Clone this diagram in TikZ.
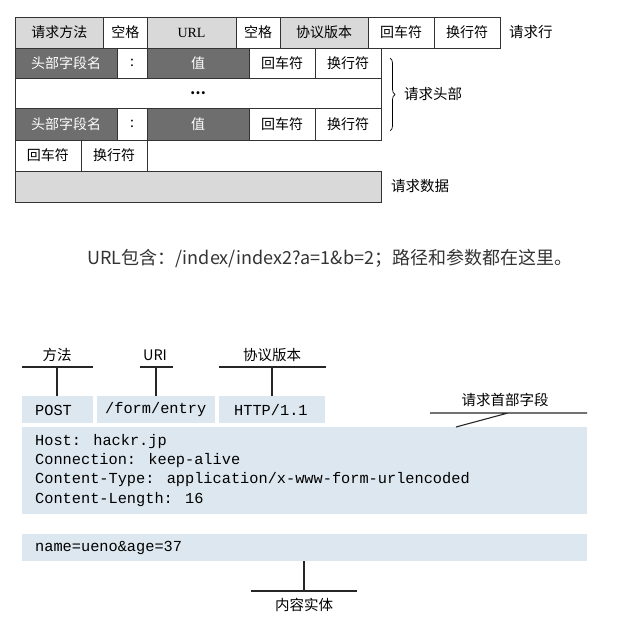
\documentclass[tikz,border=0pt]{standalone}
\usepackage{fontspec}
\setmainfont{Noto Sans CJK SC}
\newfontfamily\monof{Liberation Mono}
\usetikzlibrary{decorations.pathreplacing}
\definecolor{lg}{HTML}{D9D9D9}
\definecolor{dg}{HTML}{6E6E6E}
\definecolor{lb}{HTML}{DCE7EF}
\begin{document}
\begin{tikzpicture}[x=1pt,y=-1pt,
  cell/.style={draw=black!80,line width=0.8pt,font=\fontsize{14}{16}\selectfont},
  lbl/.style={font=\fontsize{14.5}{17}\selectfont,inner sep=0},
  mono/.style={font=\monof\fontsize{15.3}{17}\selectfont,inner sep=0,anchor=west},
  ln/.style={line width=1.1pt,black!85}]
\useasboundingbox (0,0) rectangle (621,627);
% row 1
\draw[cell,fill=lg] (15,17) rectangle node (a1){请求方法} (103.5,48);
\draw[cell] (103.5,17) rectangle node (a2){空格} (147,48);
\draw[cell,fill=lg] (147,17) rectangle node (a3){\fontspec{Liberation Serif}URL} (236,48);
\draw[cell] (236,17) rectangle node (a4){空格} (280,48);
\draw[cell,fill=lg] (280,17) rectangle node (a5){协议版本} (368,48);
\draw[cell] (368,17) rectangle node (a6){回车符} (434,48);
\draw[cell] (434,17) rectangle node (a7){换行符} (500,48);
\node[lbl,anchor=west] (l1) at (509,32) {请求行};
% row 2
\draw[cell,fill=dg] (15,48) rectangle node[text=white] (b1){头部字段名} (117,78);
\draw[cell] (117,48) rectangle node (b2){:} (147,78);
\draw[cell,fill=dg] (147,48) rectangle node[text=white] (b3){值} (249,78);
\draw[cell] (249,48) rectangle node (b4){回车符} (315,78);
\draw[cell] (315,48) rectangle node (b5){换行符} (381,78);
% row 3
\draw[cell] (15,78) rectangle node (c1){\textbf{…}} (381,108);
% row 4
\draw[cell,fill=dg] (15,108) rectangle node[text=white] (d1){头部字段名} (117,140);
\draw[cell] (117,108) rectangle node (d2){:} (147,140);
\draw[cell,fill=dg] (147,108) rectangle node[text=white] (d3){值} (249,140);
\draw[cell] (249,108) rectangle node (d4){回车符} (315,140);
\draw[cell] (315,108) rectangle node (d5){换行符} (381,140);
% row 5
\draw[cell] (15,140) rectangle node (e1){回车符} (81,171);
\draw[cell] (81,140) rectangle node (e2){换行符} (147,171);
% row 6
\draw[cell,fill=lg] (15,171) rectangle node (f1){} (381,202);
\draw[decorate,decoration={brace,amplitude=5pt},line width=0.7pt] (390,58) -- (390,131);
\node[lbl,anchor=west] (l2) at (404,94) {请求头部};
\node[lbl,anchor=west] (l3) at (391,186) {请求数据};
% middle text
\node[inner sep=0,anchor=west,font=\fontsize{18}{20}\selectfont,text=black!80] (mid) at (87,258) {URL包含：/index/index2?a=1\&b=2；路径和参数都在这里。};
% bottom
\node[lbl] (m) at (57,355) {方法};
\node[lbl] (u) at (155,355) {URI};
\node[lbl] (p) at (272,355) {协议版本};
\fill[lb] (22,396) rectangle (93,423);
\fill[lb] (97,396) rectangle (215,423);
\fill[lb] (219,396) rectangle (325,423);
\node[mono] (post) at (35,410) {POST};
\node[mono] (uri) at (105,410) {/form/entry};
\node[mono] (http) at (234,410) {HTTP/1.1};
\coordinate (mt) at (57,396); \coordinate (ut) at (156,396); \coordinate (pt) at (272,396);
\draw[ln] (22,367) -- (93,367) (mt) -- (57,367);
\draw[ln] (140,367) -- (173,367) (ut) -- (156,367);
\draw[ln] (219,367) -- (326,367) (pt) -- (272,367);
\fill[lb] (22,427) rectangle (587,514);
\node[mono] (h1) at (35,442) {Host: hackr.jp};
\node[mono] (h2) at (35,461) {Connection: keep-alive};
\node[mono] (h3) at (35,480) {Content-Type: application/x-www-form-urlencoded};
\node[mono] (h4) at (35,500) {Content-Length: 16};
\node[lbl] (hf) at (505,400) {请求首部字段};
\draw[ln] (430,413) -- (587,413) (508,413) -- (456,427);
\fill[lb] (22,534) rectangle (587,561);
\node[mono] (body) at (35,548) {name=ueno\&age=37};
\draw[ln] (304,561) -- (304,591) (251,591) -- (357,591);
\node[lbl] (ct) at (304,605) {内容实体};
\end{tikzpicture}
\end{document}
